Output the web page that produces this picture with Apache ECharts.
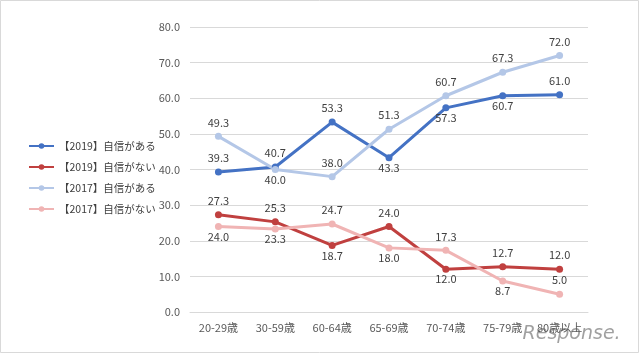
<!DOCTYPE html>
<html>
<head>
<meta charset="utf-8">
<script src="https://cdn.jsdelivr.net/npm/echarts@6/dist/echarts.min.js"></script>
<style>
  html, body { margin: 0; padding: 0; background: #fff; }
  #chart { width: 640px; height: 354px; }
</style>
</head>
<body>
<div id="chart"></div>
<script>
// ---------------------- Data ----------------------
let categories = ['20-29歳', '30-59歳', '60-64歳', '65-69歳', '70-74歳', '75-79歳', '80歳以上'];
let yTicks = [0, 10, 20, 30, 40, 50, 60, 70, 80];

let seriesNames = ['【2019】自信がある', '【2019】自信がない', '【2017】自信がある', '【2017】自信がない'];
let conf2019 = [39.3, 40.7, 53.3, 43.3, 57.3, 60.7, 61.0];
let noConf2019 = [27.3, 25.3, 18.7, 24.0, 12.0, 12.7, 12.0];
let conf2017 = [49.3, 40.0, 38.0, 51.3, 60.7, 67.3, 72.0];
let noConf2017 = [24.0, 23.3, 24.7, 18.0, 17.3, 8.7, 5.0];

// where each value label sits (above / below the point)
let pos_conf2019 = ['top', 'top', 'top', 'bottom', 'bottom', 'bottom', 'top'];
let pos_noConf2019 = ['top', 'top', 'bottom', 'top', 'bottom', 'top', 'top'];
let pos_conf2017 = ['top', 'bottom', 'top', 'top', 'top', 'top', 'top'];
let pos_noConf2017 = ['bottom', 'bottom', 'top', 'bottom', 'top', 'bottom', 'top'];

// --------------------- Styles ---------------------
let colors = ['#4472C4', '#C0403F', '#B4C7E7', '#F0B4B4'];
let text_color = '#404040';
let font_jp = '"Noto Sans CJK JP", "Noto Sans", sans-serif';

let chart = echarts.init(document.getElementById('chart'));

function to_points(values, positions) {
    return values.map(function (v, i) {
        let top = positions[i] === 'top';
        return {
            value: v,
            label: { position: positions[i], distance: top ? 5 : 1 }
        };
    });
}

function make_series(name, values, positions, color) {
    return {
        name: name,
        type: 'line',
        data: to_points(values, positions),
        symbol: 'circle',
        symbolSize: 7,
        lineStyle: { width: 3, color: color },
        itemStyle: { color: color },
        label: {
            show: true,
            color: text_color,
            fontSize: 11,
            fontFamily: font_jp,
            formatter: function (p) { return p.value.toFixed(1); }
        },
        emphasis: { disabled: true },
        animation: false
    };
}

let option = {
    backgroundColor: '#fff',
    color: colors,
    grid: { left: 190, right: 52, top: 27, bottom: 42 },
    legend: {
        data: seriesNames,
        orient: 'vertical',
        left: 23,
        top: 134,
        itemWidth: 25,
        itemHeight: 7,
        itemGap: 7,
        textStyle: { color: text_color, fontSize: 10.5, fontFamily: font_jp, lineHeight: 14 }
    },
    xAxis: {
        type: 'category',
        data: categories,
        boundaryGap: true,
        axisLine: { show: true, lineStyle: { color: '#D9D9D9' } },
        axisTick: { show: false },
        axisLabel: { color: '#595959', fontSize: 11, fontFamily: font_jp, margin: 10, interval: 0 }
    },
    yAxis: {
        type: 'value',
        min: yTicks[0],
        max: yTicks[yTicks.length - 1],
        interval: 10,
        axisLine: { show: false },
        axisTick: { show: false },
        splitLine: { lineStyle: { color: '#D9D9D9' } },
        axisLabel: {
            color: '#595959', fontSize: 11, fontFamily: font_jp, margin: 10,
            formatter: function (v) { return v.toFixed(1); }
        }
    },
    series: [
        make_series(seriesNames[0], conf2019, pos_conf2019, colors[0]),
        make_series(seriesNames[1], noConf2019, pos_noConf2019, colors[1]),
        make_series(seriesNames[2], conf2017, pos_conf2017, colors[2]),
        make_series(seriesNames[3], noConf2017, pos_noConf2017, colors[3])
    ],
    graphic: [
        {
            type: 'rect',
            shape: { x: 0.5, y: 0.5, width: 638, height: 352 },
            style: { fill: 'none', stroke: '#D9D9D9', lineWidth: 1 },
            silent: true
        },
        {
            type: 'text',
            left: 522,
            top: 324,
            style: {
                text: 'Response.',
                fill: 'rgba(120,120,120,0.7)',
                stroke: 'rgba(255,255,255,0.8)',
                lineWidth: 1,
                font: 'italic 19px "DejaVu Sans", sans-serif'
            },
            silent: true
        }
    ]
};

chart.setOption(option);
</script>
</body>
</html>
